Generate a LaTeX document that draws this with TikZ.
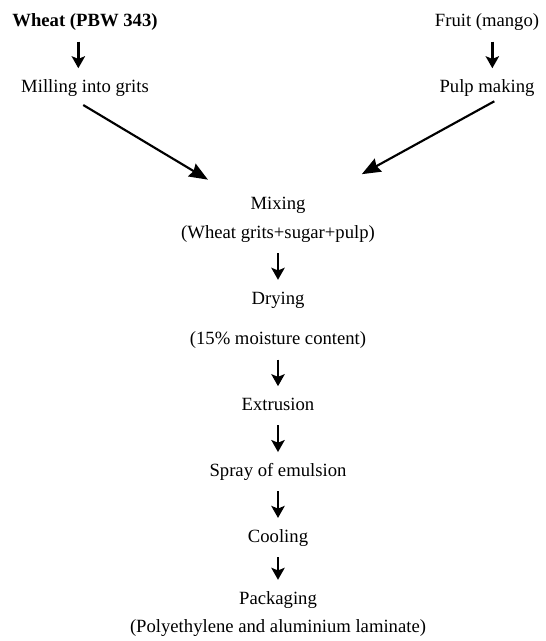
\documentclass[tikz,border=0pt]{standalone}
\usepackage{fontspec}
\setmainfont{Liberation Serif}
\usetikzlibrary{
  arrows.meta,
  positioning
}

\begin{document}
\begin{tikzpicture}[
x=0.75pt,y=-0.75pt,
etapa/.style={
inner sep=0pt,
text height=10pt,
text depth=3pt,
font=\fontsize{14}{16}\selectfont
},
seta/.style={-{Stealth[length=9pt,width=10pt,inset=2pt]},line width=1.9pt,
shorten <=8pt,shorten >=8pt},
diag/.style={-{Stealth[length=14pt,width=11pt,inset=1.5pt]},line width=1.6pt}
]
\useasboundingbox (0,0) rectangle (545,641);

\node[etapa,font=\fontsize{14}{16}\selectfont\bfseries] (wheat) at (85,22)
{Wheat (PBW 343)};
\node[etapa,below=36pt of wheat] (milling) {Milling into grits};

\node[etapa] (fruit) at (487,22) {Fruit (mango)};
\node[etapa,below=36pt of fruit] (pulp) {Pulp making};

\node[etapa] (mixing) at (278,205) {Mixing};
\node[etapa,below=8pt of mixing] (mixnote) {(Wheat grits+sugar+pulp)};
\node[etapa,below=36pt of mixnote] (drying) {Drying};
\node[etapa,below=17pt of drying] (drynote) {(15\% moisture content)};
\node[etapa,below=36pt of drynote] (extrusion) {Extrusion};
\node[etapa,below=36pt of extrusion] (spray) {Spray of emulsion};
\node[etapa,below=36pt of spray] (cooling) {Cooling};
\node[etapa,below=33pt of cooling] (packaging) {Packaging};
\node[etapa,below=8pt of packaging] (packnote)
{(Polyethylene and aluminium laminate)};

\draw[seta] ([xshift=-5pt]wheat.south) -- ([xshift=-5pt]milling.north);
\draw[seta] ([xshift=4pt]fruit.south) -- ([xshift=4pt]pulp.north);

\draw[diag,shorten <=12pt,shorten >=37pt] (milling.-150) -- (mixing.west);
\draw[diag,shorten <=7pt,shorten >=48pt] (pulp.-30) -- (mixing.east);

\draw[seta] (mixnote) -- (drying);
\draw[seta] (drynote) -- (extrusion);
\draw[seta] (extrusion) -- (spray);
\draw[seta] (spray) -- (cooling);
\draw[seta] (cooling) -- (packaging);

\end{tikzpicture}
\end{document}
